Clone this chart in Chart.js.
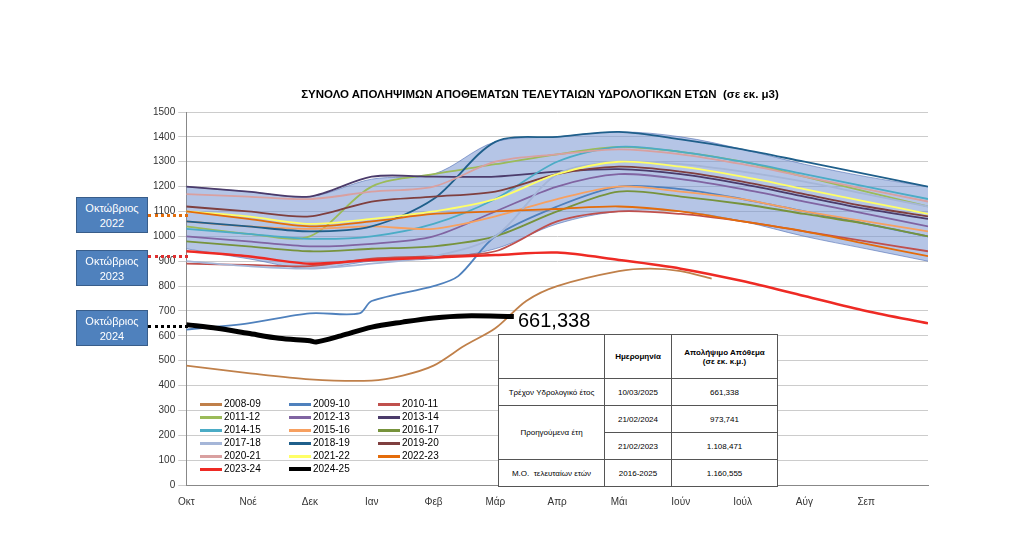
<!DOCTYPE html>
<html><head><meta charset="utf-8">
<script src="https://cdn.jsdelivr.net/npm/chart.js"></script>
<style>
body{margin:0;background:#fff;font-family:"Liberation Sans",Arial,sans-serif}
#wrap{position:relative;width:1024px;height:553px}
.title{position:absolute;left:0;width:1080px;top:88px;text-align:center;font-weight:bold;font-size:11.5px}
.box{position:absolute;left:76px;width:72px;height:36px;background:#4f81bd;border:1px solid #385d8a;color:#fff;font-size:11px;text-align:center;line-height:15px;padding-top:3px;box-sizing:border-box}
.dot{position:absolute;left:148px;height:0;border-top:3px dotted}
#legend{position:absolute;left:200px;top:398px;font-size:10px}
#legend .it{position:absolute;white-space:nowrap}
#legend .sw{display:inline-block;width:22px;height:3px;vertical-align:middle;margin-right:2px}
table{position:absolute;left:498px;top:334px;border-collapse:collapse;font-size:8px;background:#fff}
td{border:1px solid #555;text-align:center;padding:0}
.big{position:absolute;left:518px;top:309px;font-size:20px}
</style></head><body><div id="wrap">
<canvas id="c" width="1024" height="553"></canvas>
<div class="title">ΣΥΝΟΛΟ ΑΠΟΛΗΨΙΜΩΝ ΑΠΟΘΕΜΑΤΩΝ ΤΕΛΕΥΤΑΙΩΝ ΥΔΡΟΛΟΓΙΚΩΝ ΕΤΩΝ&nbsp; (σε εκ. μ3)</div>
<div class="box" style="top:197px">Οκτώβριος<br>2022</div>
<div class="dot" style="top:214px;width:40px;border-color:#e46c0a"></div>
<div class="box" style="top:250px">Οκτώβριος<br>2023</div>
<div class="dot" style="top:255px;width:40px;border-color:#e03030"></div>
<div class="box" style="top:310px">Οκτώβριος<br>2024</div>
<div class="dot" style="top:325px;width:40px;border-color:#000"></div>
<div class="big">661,338</div>
<div id="legend"></div>
<table>
<tr style="height:44px"><td style="width:105px"></td><td style="width:66px;font-weight:bold">Ημερομηνία</td><td style="width:105px;font-weight:bold">Απολήψιμο Απόθεμα<br>(σε εκ. κ.μ.)</td></tr>
<tr style="height:27px"><td>Τρέχον Υδρολογικό έτος</td><td>10/03/2025</td><td>661,338</td></tr>
<tr style="height:27px"><td rowspan="2">Προηγούμενα έτη</td><td>21/02/2024</td><td>973,741</td></tr>
<tr style="height:27px"><td>21/02/2023</td><td>1.108,471</td></tr>
<tr style="height:27px"><td>Μ.Ο. &nbsp;τελευταίων ετών</td><td>2016-2025</td><td>1.160,555</td></tr>
</table>
</div>
<script>
const months=["Οκτ","Νοέ","Δεκ","Ιαν","Φεβ","Μάρ","Απρ","Μάι","Ιούν","Ιούλ","Αύγ","Σεπ",""];
const xm=[0,1,2,3,4,5,6,7,8,9,10,11,12];
const bandUpper=[1200,1180,1160,1230,1250,1380,1400,1420,1400,1350,1290,1240,1200];
const bandLower=[950,910,870,900,910,950,1050,1100,1100,1060,1000,950,900];
const names=["2008-09","2009-10","2010-11","2011-12","2012-13","2013-14","2014-15","2015-16","2016-17","2017-18","2018-19","2019-20","2020-21","2021-22","2022-23","2023-24","2024-25"];
const colors=["#c0804a","#4f81bd","#c0504d","#9bbb59","#8064a2","#4b3b6b","#4bacc6","#f7a060","#77933c","#a5b6d8","#1f5f8b","#7f3f3f","#d9a0a0","#ffff66","#e46c0a","#ee2a24","#000000"];
const x0809=[0,1,2,3,3.5,4,4.5,5,5.5,6,7,7.5,8,8.5];
const v0809=[480,450,425,420,440,480,560,630,740,800,860,870,860,830];
const x0910=[0,1,2,2.8,3,4,4.4,5,6,7,8,9,10,11,12];
const v0910=[625,650,690,690,740,800,840,1000,1120,1200,1190,1150,1100,1050,1000];
const v1011=[890,885,880,910,920,940,1060,1100,1090,1060,1020,980,940];
const v1112=[1040,1010,1000,1200,1250,1290,1330,1360,1340,1300,1240,1180,1120];
const v1213=[1000,980,960,970,1000,1100,1200,1250,1230,1190,1140,1090,1040];
const v1314=[1200,1180,1160,1240,1240,1240,1260,1270,1250,1210,1160,1110,1070];
const v1415=[1030,1010,990,1000,1050,1150,1300,1360,1340,1300,1250,1200,1150];
const v1516=[1060,1040,1030,1040,1030,1080,1150,1200,1180,1150,1100,1060,1020];
const v1617=[980,960,940,950,960,1000,1100,1180,1160,1130,1090,1050,1000];
const v1718=[900,880,870,890,920,1000,1250,1300,1290,1260,1220,1170,1120];
const v1819=[1060,1040,1020,1040,1150,1380,1400,1420,1390,1350,1300,1250,1200];
const v1920=[1120,1100,1080,1140,1160,1180,1250,1280,1260,1220,1170,1120,1080];
const v2021=[1170,1160,1150,1180,1200,1300,1330,1350,1330,1290,1240,1190,1140];
const v2122=[1100,1080,1050,1070,1100,1150,1250,1300,1280,1240,1190,1140,1090];
const v2223=[1100,1070,1040,1060,1090,1100,1110,1120,1100,1060,1020,970,920];
const v2324=[940,920,890,905,915,925,935,905,870,820,760,700,650];
const x2425=[0,0.5,1,1.5,2,2.1,2.5,3,3.5,4,4.5,5.3];
const v2425=[645,630,610,590,580,575,600,635,655,672,680,678];
const pts=(xs,vs)=>vs.map((v,i)=>({x:xs[i],y:v}));
const series=[pts(x0809,v0809),pts(x0910,v0910),pts(xm,v1011),pts(xm,v1112),pts(xm,v1213),pts(xm,v1314),pts(xm,v1415),pts(xm,v1516),pts(xm,v1617),pts(xm,v1718),pts(xm,v1819),pts(xm,v1920),pts(xm,v2021),pts(xm,v2122),pts(xm,v2223),pts(xm,v2324),pts(x2425,v2425)];
const ds=[
 {data:pts(xm,bandLower),borderColor:"rgba(80,110,180,0.6)",borderWidth:1,pointRadius:0,tension:0.35,fill:false,order:50},
 {data:pts(xm,bandUpper),borderColor:"rgba(80,110,180,0.6)",borderWidth:1,pointRadius:0,tension:0.35,fill:'-1',backgroundColor:"rgba(120,150,210,0.55)",order:50}
];
series.forEach((d,i)=>ds.push({label:names[i],data:d,borderColor:colors[i],borderWidth:i==16?5:(i==15?2.5:1.8),pointRadius:0,tension:0.3,fill:false,order:17-i}));
new Chart(document.getElementById('c'),{type:'line',data:{datasets:ds},
options:{responsive:false,animation:false,layout:{padding:{left:150,right:96,top:112,bottom:42}},
plugins:{legend:{display:false},tooltip:{enabled:false}},
scales:{x:{type:'linear',min:0,max:12,grid:{display:false},border:{color:'#888'},ticks:{stepSize:1,autoSkip:false,color:'#333',font:{size:10},callback:v=>months[v]}},
y:{min:0,max:1500,ticks:{stepSize:100,color:'#333',font:{size:10},callback:v=>String(v)},grid:{color:'#ccc'},border:{color:'#888'}}}}});
const lg=document.getElementById('legend');
names.forEach((n,i)=>{const d=document.createElement('div');d.className='it';d.style.left=(i%3)*89+'px';d.style.top=Math.floor(i/3)*13+'px';
d.innerHTML='<span class="sw" style="background:'+colors[i]+(i==16?';height:4px':'')+'"></span>'+n;lg.appendChild(d);});
</script></body></html>
